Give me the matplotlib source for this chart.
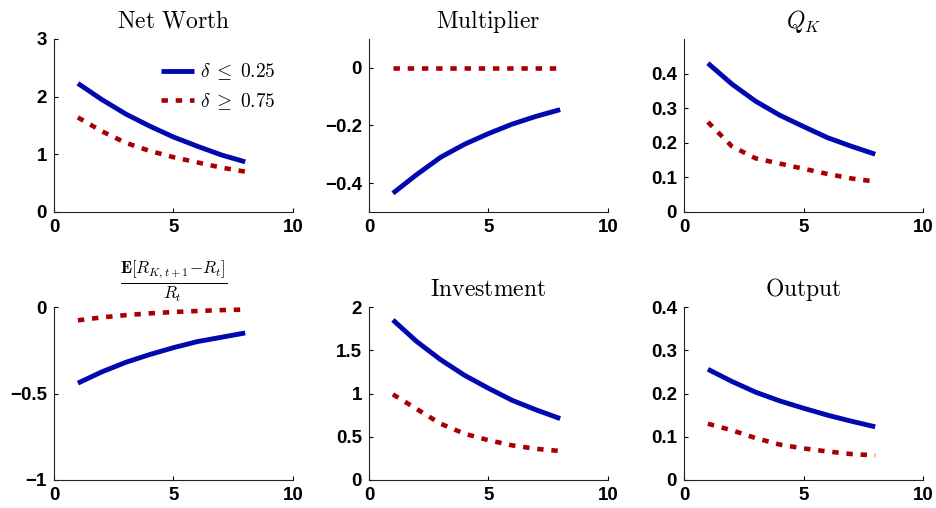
import matplotlib
matplotlib.use("Agg")
import matplotlib.pyplot as plt
import numpy as np

plt.rcParams['mathtext.fontset'] = 'cm'
plt.rcParams['font.family'] = ['Liberation Sans', 'DejaVu Sans']

periods = [1, 2, 3, 4, 5, 6, 7, 8]

titles = [r'$\mathrm{Net\ Worth}$', r'$\mathrm{Multiplier}$', r'$Q_K$',
          r'$\frac{\mathbf{E}[R_{K,t+1}{-}R_t]}{R_t}$', r'$\mathrm{Investment}$', r'$\mathrm{Output}$']

low_delta = [
    [2.23, 1.95, 1.70, 1.49, 1.30, 1.14, 0.99, 0.87],
    [-0.435, -0.37, -0.31, -0.265, -0.228, -0.195, -0.168, -0.145],
    [0.43, 0.37, 0.32, 0.28, 0.247, 0.215, 0.19, 0.167],
    [-0.44, -0.375, -0.32, -0.275, -0.235, -0.20, -0.175, -0.15],
    [1.85, 1.60, 1.39, 1.21, 1.06, 0.92, 0.81, 0.71],
    [0.256, 0.228, 0.203, 0.183, 0.166, 0.150, 0.136, 0.123],
]
high_delta = [
    [1.64, 1.40, 1.20, 1.06, 0.95, 0.86, 0.77, 0.70],
    [0, 0, 0, 0, 0, 0, 0, 0],
    [0.26, 0.19, 0.155, 0.14, 0.125, 0.11, 0.097, 0.088],
    [-0.077, -0.06, -0.047, -0.037, -0.029, -0.023, -0.018, -0.015],
    [0.99, 0.82, 0.65, 0.535, 0.46, 0.40, 0.36, 0.335],
    [0.13, 0.115, 0.097, 0.082, 0.073, 0.066, 0.060, 0.057],
]
ylims = [(0, 3), (-0.5, 0.1), (0, 0.5), (-1, 0), (0, 2), (0, 0.4)]
yticks = [[0, 1, 2, 3], [-0.4, -0.2, 0], [0, 0.1, 0.2, 0.3, 0.4],
          [-1, -0.5, 0], [0, 0.5, 1, 1.5, 2], [0, 0.1, 0.2, 0.3, 0.4]]
yticklabels = [['0', '1', '2', '3'], ['\u22120.4', '\u22120.2', '0'],
               ['0', '0.1', '0.2', '0.3', '0.4'], ['\u22121', '\u22120.5', '0'],
               ['0', '0.5', '1', '1.5', '2'], ['0', '0.1', '0.2', '0.3', '0.4']]
labels = [r'$\delta\;\leq\;0.25$', r'$\delta\;\geq\;0.75$']

W, H = 937, 508
fig = plt.figure(figsize=(W / 100, H / 100), dpi=100)
lefts = [54, 369, 684]
tops = [39, 307]
aw, ah = 239, 173

blue = '#0008b0'
red = '#a80000'

for i in range(6):
    r, c = divmod(i, 3)
    ax = fig.add_axes([lefts[c] / W, 1 - (tops[r] + ah) / H, aw / W, ah / H])
    ax.plot(periods, low_delta[i], color=blue, lw=3.5, solid_capstyle='butt', label=labels[0])
    ax.plot(periods, high_delta[i], color=red, lw=3.3, linestyle=(0, (1.4, 1.7)),
            dash_capstyle='butt', label=labels[1])
    ax.set_xlim(0, 10)
    ax.set_ylim(*ylims[i])
    ax.set_xticks([0, 5, 10])
    ax.set_xticklabels(['0', '5', '10'])
    ax.set_yticks(yticks[i])
    ax.set_yticklabels(yticklabels[i])
    for s in ['top', 'right']:
        ax.spines[s].set_visible(False)
    for s in ['left', 'bottom']:
        ax.spines[s].set_linewidth(0.8)
        ax.spines[s].set_color('#222222')
    ax.tick_params(direction='in', length=3, width=0.8, labelsize=13.5)
    ax.tick_params(axis='x', pad=5)
    ax.tick_params(axis='y', pad=5)
    for lab in ax.get_xticklabels() + ax.get_yticklabels():
        lab.set_fontweight('bold')
    if i == 3:
        ax.set_title(titles[i], fontsize=17.5, pad=13)
    else:
        ax.set_title(titles[i], fontsize=17, pad=8)
    if i == 0:
        ax.legend(loc='upper right', bbox_to_anchor=(1.0, 0.97), frameon=False,
                  fontsize=14, handlelength=1.7, handletextpad=0.3, labelspacing=0.45)

fig.savefig('out.png', dpi=100)
